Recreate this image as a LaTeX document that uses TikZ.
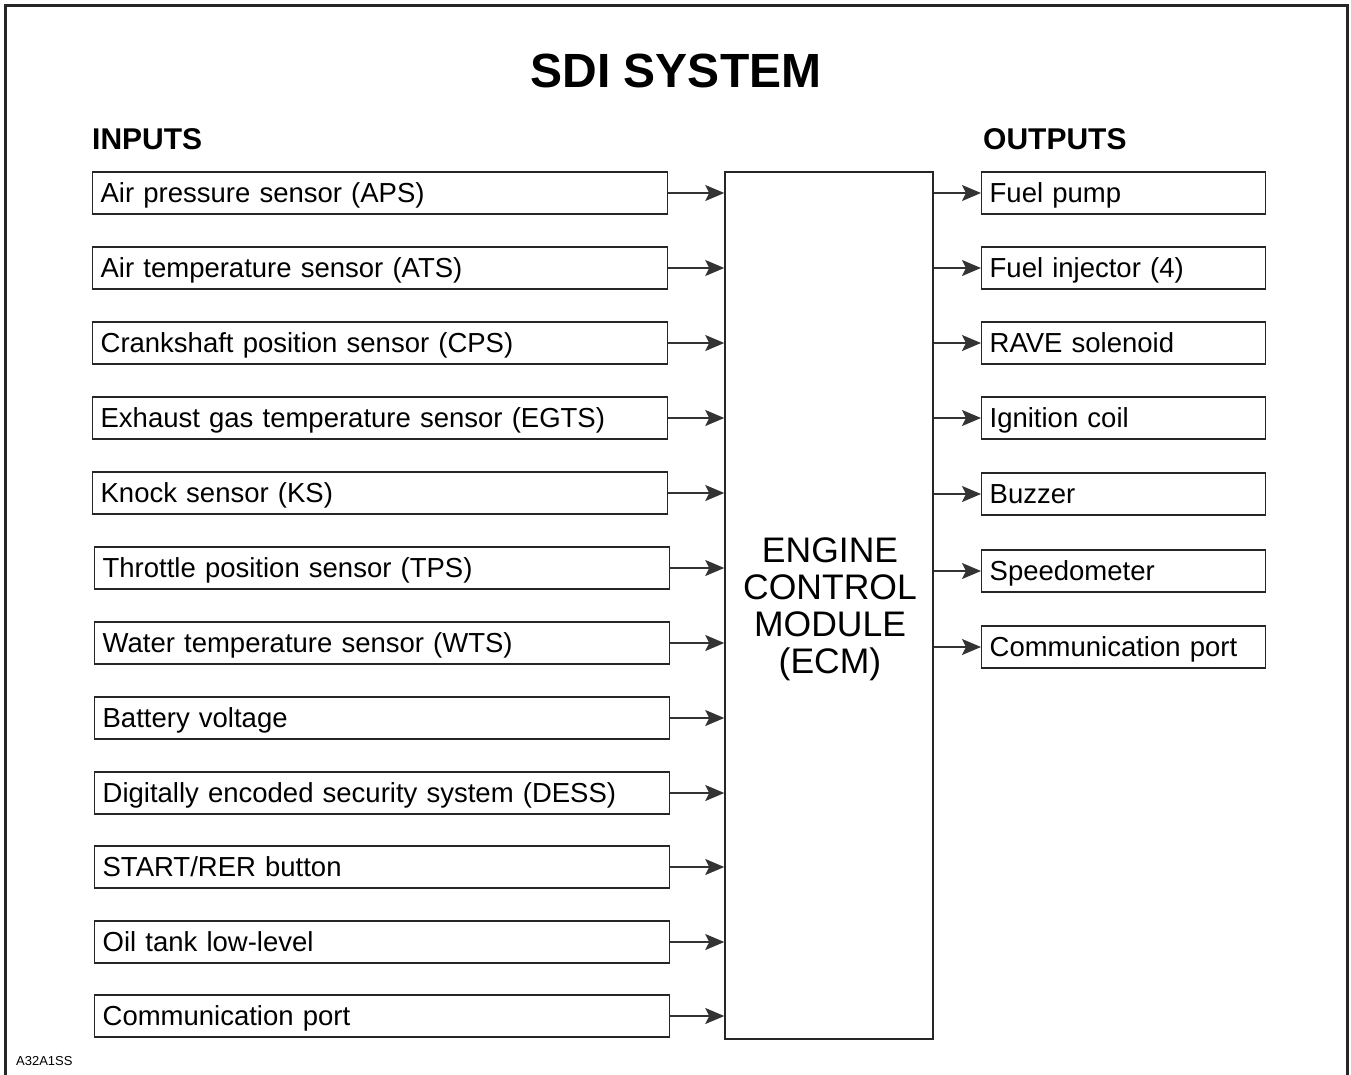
\documentclass[tikz,border=0pt]{standalone}
\usepackage{fontspec}
\setmainfont{Liberation Sans}
\usetikzlibrary{arrows.meta}
\begin{document}
\begin{tikzpicture}[x=1pt,y=-1pt,
  inbox/.style={draw=black!85, line width=1.3pt, anchor=west, minimum height=42pt,
    text width=559pt, inner xsep=8pt, inner ysep=0pt, align=left,
    text height=20pt, text depth=2pt,
    font=\fontsize{27.5}{30}\selectfont},
  outbox/.style={draw=black!85, line width=1.3pt, anchor=west, minimum height=42pt,
    text width=268pt, inner xsep=8pt, inner ysep=0pt, align=left,
    text height=20pt, text depth=2pt,
    font=\fontsize{27.5}{30}\selectfont},
  arr/.style={draw=black!80, line width=1.5pt, -{Stealth[length=19pt,width=16pt,inset=4pt]}},
  head/.style={font=\fontsize{30}{34}\selectfont\bfseries, anchor=base west, inner sep=0pt}]
\useasboundingbox (0,0) rectangle (1351,1074);
\draw[line width=3pt, black!85] (5,1090) -- (5,5) -- (1347,5) -- (1347,1090);
\node[font=\fontsize{48}{52}\selectfont\bfseries, inner sep=0pt, anchor=base] (title) at (676,87) {SDI SYSTEM};
\node[head] (inputs) at (92,149) {INPUTS};
\node[head] (outputs) at (983,149) {OUTPUTS};
\node[draw=black!85, line width=1.5pt, minimum width=208pt, minimum height=867pt, inner sep=0pt,
  align=center, font=\fontsize{35.5}{37}\selectfont] (ecm) at (829,605.5) {};
\node[align=center, font=\fontsize{35.5}{37}\selectfont, inner sep=0pt] (ecmtext) at (830,609)
  {ENGINE\\CONTROL\\MODULE\\(ECM)};
% inputs
\node[inbox] (i1) at (92,193) {Air pressure sensor (APS)};
\node[inbox] (i2) at (92,268) {Air temperature sensor (ATS)};
\node[inbox] (i3) at (92,343) {Crankshaft position sensor (CPS)};
\node[inbox] (i4) at (92,418) {Exhaust gas temperature sensor (EGTS)};
\node[inbox] (i5) at (92,493) {Knock sensor (KS)};
\node[inbox] (i6) at (94,568) {Throttle position sensor (TPS)};
\node[inbox] (i7) at (94,643) {Water temperature sensor (WTS)};
\node[inbox] (i8) at (94,718) {Battery voltage};
\node[inbox] (i9) at (94,793) {Digitally encoded security system (DESS)};
\node[inbox] (i10) at (94,867) {START/RER button};
\node[inbox] (i11) at (94,942) {Oil tank low-level};
\node[inbox] (i12) at (94,1016) {Communication port};
\foreach \n in {1,...,12} {\draw[arr] (i\n.east) -- (i\n.east -| ecm.west);}
% outputs
\node[outbox] (o1) at (981,193) {Fuel pump};
\node[outbox] (o2) at (981,268) {Fuel injector (4)};
\node[outbox] (o3) at (981,343) {RAVE solenoid};
\node[outbox] (o4) at (981,418) {Ignition coil};
\node[outbox] (o5) at (981,494) {Buzzer};
\node[outbox] (o6) at (981,571) {Speedometer};
\node[outbox] (o7) at (981,647) {Communication port};
\foreach \n in {1,...,7} {\draw[arr] (o\n.west -| ecm.east) -- (o\n.west);}
\node[font=\fontsize{13}{15}\selectfont, anchor=base west, inner sep=0pt] (code) at (16,1065) {A32A1SS};
\end{tikzpicture}
\end{document}
